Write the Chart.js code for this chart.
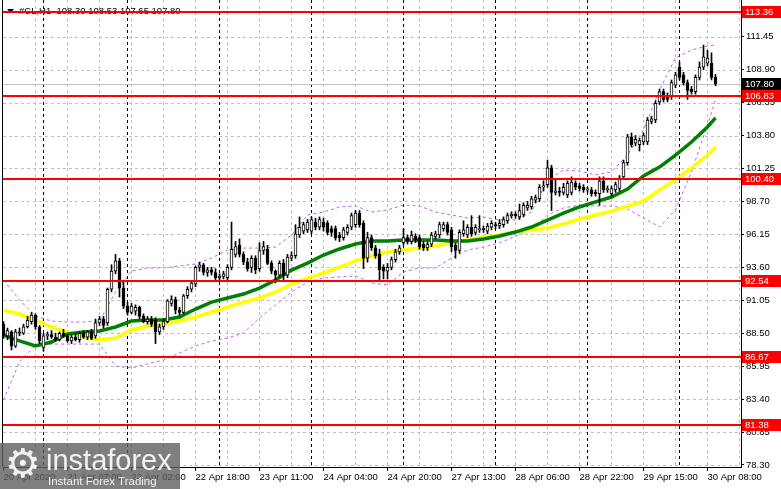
<!DOCTYPE html>
<html>
<head>
<meta charset="utf-8">
<script src="https://cdn.jsdelivr.net/npm/chart.js@4.4.1/dist/chart.umd.min.js"></script>
<style>
  html, body { margin:0; padding:0; background:#fff; }
  #wrap { position:relative; width:781px; height:489px; overflow:hidden; }
  #logo {
    position:absolute; left:0; top:443px; width:180px; height:46px;
    background:rgba(95,95,95,.8); color:#f2f2f2;
    font-family:"Liberation Sans", Arial, sans-serif;
  }
  #logo .gear { position:absolute; left:5px; top:-2px; font-size:40px; line-height:44px; font-family:"DejaVu Sans", sans-serif; }
  #logo .brand { position:absolute; left:46px; top:1px; font-size:29px; line-height:32px; }
  #logo .tag { position:absolute; left:48px; top:32px; font-size:11.5px; line-height:13px; }
</style>
</head>
<body>
<div id="wrap">
  <canvas id="chart" width="781" height="489"></canvas>
  <div id="logo"><span class="gear">⚙</span><span class="brand">instaforex</span><span class="tag">Instant Forex Trading</span></div>
</div>
<script>
/* =========================================================
   DATA  (#CL, H1, bar index 0 = 20 Apr 2020)
========================================================= */

const opens = [
  89.2, 88.3, 88.6, 87.5, 88.6, 88.5, 89.0, 89.4, 89.9, 89.0,
  87.4, 88.3, 88.4, 88.2, 88.0, 88.5, 88.3, 87.9, 88.2, 88.0,
  88.5, 88.2, 88.6, 88.3, 89.3, 89.6, 89.3, 91.9, 93.3, 94.1,
  92.0, 90.6, 90.1, 90.2, 90.5, 89.8, 89.4, 89.6, 89.5, 88.6,
  89.0, 89.4, 90.8, 91.1, 90.3, 90.1, 91.4, 91.9, 92.3, 93.6,
  93.8, 93.2, 93.4, 93.2, 92.8, 92.9, 92.8, 93.6, 94.6, 95.3,
  94.6, 94.0, 93.6, 94.3, 93.5, 94.9, 95.0, 93.9, 93.3, 93.0,
  93.9, 93.0, 94.3, 94.5, 96.1, 96.4, 96.5, 96.4, 97.1, 96.7,
  97.1, 97.0, 96.6, 96.6, 96.1, 95.9, 96.3, 96.7, 96.9, 97.8,
  97.0, 94.3, 95.9, 95.1, 94.6, 93.6, 93.3, 93.6, 94.2, 94.8,
  95.5, 95.9, 95.6, 96.0, 95.9, 95.4, 95.1, 95.4, 96.0, 96.1,
  96.6, 96.9, 96.5, 95.3, 94.9, 96.2, 96.1, 96.7, 96.3, 96.5,
  96.6, 96.4, 96.7, 96.9, 96.8, 96.9, 97.2, 97.6, 97.7, 97.5,
  97.7, 98.2, 98.3, 98.8, 98.9, 99.8, 100.0, 101.3, 99.4, 99.5,
  99.4, 99.2, 99.4, 100.1, 99.9, 99.8, 99.6, 99.6, 99.4, 99.3,
  100.3, 99.6, 99.3, 99.6, 99.7, 100.6, 101.7, 103.7, 103.2, 103.1,
  103.3, 103.3, 104.9, 105.0, 106.4, 107.2, 106.9, 106.8, 107.7, 109.1,
  108.5, 107.9, 107.4, 107.2, 108.3, 109.1, 109.4, 109.4, 108.30
];

const highs = [
  89.4, 88.9, 88.7, 88.8, 88.9, 89.2, 89.8, 90.1, 90.0, 89.1,
  88.5, 88.6, 88.7, 88.5, 88.6, 88.8, 88.4, 88.4, 88.5, 88.6,
  88.7, 88.7, 88.8, 89.6, 89.8, 89.8, 92.0, 93.8, 94.6, 94.3,
  92.6, 90.9, 90.8, 90.7, 90.6, 90.0, 89.8, 89.8, 89.7, 89.2,
  89.6, 91.1, 91.4, 91.3, 90.5, 91.5, 92.1, 92.5, 93.7, 94.0,
  93.9, 93.6, 93.6, 93.5, 93.1, 93.3, 93.8, 97.1, 95.6, 95.8,
  94.8, 94.3, 94.5, 94.5, 95.5, 95.6, 95.3, 94.1, 93.4, 94.1,
  94.2, 94.6, 94.8, 96.9, 97.5, 97.1, 97.3, 97.5, 97.4, 97.5,
  97.4, 97.2, 96.8, 96.8, 96.3, 96.7, 96.9, 97.8, 98.0, 98.0,
  97.2, 96.3, 96.1, 95.3, 95.0, 93.8, 93.9, 94.4, 95.0, 95.3,
  96.6, 96.1, 96.4, 96.2, 96.1, 95.6, 95.6, 96.3, 96.4, 97.1,
  97.1, 97.1, 96.7, 95.5, 96.5, 97.2, 96.9, 97.6, 96.9, 97.6,
  96.8, 97.0, 97.2, 97.1, 97.3, 97.5, 97.8, 97.9, 97.9, 98.5,
  98.6, 98.7, 99.1, 99.2, 100.0, 100.3, 101.9, 101.5, 100.4, 99.8,
  100.1, 100.3, 100.6, 100.3, 100.1, 100.0, 99.8, 99.8, 99.6, 100.6,
  100.6, 99.9, 99.9, 100.2, 100.7, 101.9, 103.9, 104.0, 103.8, 103.6,
  104.0, 105.2, 105.3, 106.5, 107.4, 107.4, 107.1, 108.1, 108.7, 109.5,
  108.7, 108.1, 107.6, 108.5, 109.5, 110.8, 110.4, 110.2, 108.53
];

const lows = [
  88.1, 88.0, 87.2, 87.4, 88.3, 88.4, 88.9, 89.2, 88.8, 87.7,
  87.1, 88.0, 88.1, 87.9, 87.9, 88.2, 87.8, 87.7, 87.9, 87.8,
  88.1, 88.0, 88.0, 88.1, 89.1, 88.9, 89.1, 91.7, 93.1, 91.3,
  90.4, 89.9, 90.0, 89.9, 89.6, 89.3, 89.2, 89.0, 87.7, 88.4,
  88.8, 89.3, 90.6, 90.0, 89.9, 90.0, 91.2, 91.7, 92.1, 93.3,
  93.0, 92.9, 93.0, 92.6, 92.6, 92.7, 92.6, 93.4, 94.4, 94.4,
  93.8, 93.3, 93.2, 93.1, 93.3, 94.6, 93.8, 93.1, 92.4, 92.8,
  92.5, 92.8, 94.1, 94.3, 95.9, 96.2, 96.3, 96.2, 96.5, 96.5,
  96.4, 96.1, 96.0, 95.7, 95.6, 95.7, 96.1, 96.5, 96.7, 96.7,
  93.5, 94.0, 94.9, 94.3, 92.6, 92.7, 92.7, 93.4, 94.0, 94.6,
  95.3, 95.4, 95.4, 95.5, 95.0, 94.9, 94.9, 95.2, 95.8, 95.9,
  96.4, 96.1, 94.8, 94.3, 94.7, 96.0, 95.9, 96.0, 96.1, 96.3,
  96.3, 96.2, 96.5, 96.6, 96.6, 96.7, 97.0, 97.4, 97.4, 97.3,
  97.5, 98.0, 98.1, 98.6, 98.7, 99.5, 99.8, 98.0, 99.2, 99.1,
  99.2, 99.0, 99.2, 99.6, 99.5, 99.4, 99.4, 99.1, 99.1, 98.4,
  99.4, 99.4, 99.1, 99.4, 99.5, 100.4, 101.5, 102.9, 103.0, 102.6,
  103.1, 103.1, 104.7, 104.8, 106.2, 106.4, 106.4, 106.6, 107.5, 108.1,
  107.7, 106.6, 107.0, 107.0, 108.1, 108.9, 109.2, 108.1, 107.65
];

const closes = [
  88.3, 88.7, 87.5, 88.6, 88.5, 89.0, 89.5, 89.9, 89.0, 87.9,
  88.3, 88.4, 88.2, 88.0, 88.5, 88.3, 87.9, 88.2, 88.0, 88.5,
  88.2, 88.6, 88.1, 89.3, 89.6, 89.1, 91.9, 93.3, 94.1, 92.0,
  90.6, 90.1, 90.6, 90.5, 89.8, 89.4, 89.6, 89.2, 88.6, 89.0,
  89.4, 91.0, 91.1, 90.3, 90.1, 91.4, 91.9, 92.4, 93.6, 93.8,
  93.2, 93.4, 93.2, 92.8, 92.9, 93.1, 93.6, 95.0, 95.2, 94.6,
  94.0, 93.5, 94.3, 93.4, 94.9, 95.2, 93.9, 93.3, 93.0, 93.9,
  93.0, 94.4, 94.5, 96.2, 96.7, 96.9, 97.1, 97.3, 96.7, 97.3,
  96.7, 96.3, 96.3, 95.9, 95.9, 96.5, 96.7, 97.6, 97.8, 96.9,
  94.3, 95.9, 95.1, 94.5, 93.4, 93.3, 93.6, 94.2, 94.8, 95.1,
  95.9, 95.6, 96.1, 95.7, 95.2, 95.1, 95.4, 96.1, 96.2, 96.9,
  96.9, 96.3, 95.2, 94.9, 96.3, 96.5, 96.7, 96.2, 96.7, 96.6,
  96.5, 96.8, 97.0, 96.8, 97.0, 97.3, 97.6, 97.7, 97.6, 98.0,
  98.4, 98.4, 98.9, 99.0, 99.8, 99.9, 101.3, 99.4, 99.5, 99.4,
  99.8, 100.1, 100.2, 99.8, 99.7, 99.6, 99.6, 99.3, 99.3, 100.3,
  99.6, 99.7, 99.7, 100.0, 100.5, 101.7, 103.7, 103.1, 103.5, 103.4,
  103.8, 105.0, 105.1, 106.3, 107.2, 106.6, 106.6, 107.9, 108.5, 108.3,
  107.9, 107.3, 107.2, 108.3, 109.1, 109.9, 109.8, 108.3, 107.80
];

/* indicator lines, read at these bar indices */
const lineBars = [
  0, 4, 8, 12, 16, 20, 24, 28, 32, 36, 40, 44, 48, 52, 56, 60,
  64, 68, 72, 76, 80, 84, 88, 92, 96, 100, 104, 108, 112, 116, 120, 124,
  128, 132, 136, 140, 144, 148, 152, 156, 160, 164, 168, 172, 176, 178
];

const maFast = [
  88.36, 87.90, 87.51, 87.82, 88.44, 88.59, 88.67, 88.98, 89.44, 89.52, 89.52, 89.75, 90.37, 90.91, 91.22, 91.53,
  91.99, 92.62, 93.39, 93.93, 94.55, 95.02, 95.40, 95.64, 95.64, 95.71, 95.71, 95.71, 95.64, 95.64, 95.79, 96.02,
  96.33, 96.72, 97.26, 97.80, 98.27, 98.66, 99.04, 99.66, 100.67, 101.36, 102.29, 103.30, 104.46, 105.16
];

const maSlow = [
  90.30, 89.99, 89.52, 88.98, 88.59, 88.20, 87.97, 88.13, 88.75, 89.06, 89.21, 89.44, 89.75, 90.14, 90.53, 90.91,
  91.22, 91.69, 92.31, 92.77, 93.16, 93.62, 94.09, 94.48, 94.79, 94.94, 95.10, 95.25, 95.48, 95.71, 95.95, 96.10,
  96.33, 96.49, 96.64, 96.95, 97.34, 97.65, 97.95, 98.34, 98.73, 99.58, 100.36, 101.29, 102.29, 102.91
];

const bandUpper = [
  92.62, 91.07, 89.83, 89.44, 89.37, 89.37, 89.44, 91.69, 93.31, 93.55, 93.55, 93.70, 93.86, 94.32, 94.94, 95.09,
  95.09, 95.17, 96.10, 97.65, 97.88, 98.27, 98.35, 97.88, 98.04, 98.42, 98.35, 97.88, 97.65, 97.42, 97.49, 97.26,
  97.26, 97.88, 100.36, 101.13, 101.05, 100.75, 100.98, 102.29, 104.23, 107.32, 109.80, 110.42, 110.73, 110.81
];

const bandLower = [
  83.33, 86.27, 87.59, 87.66, 87.66, 87.66, 87.66, 85.96, 85.81, 86.12, 86.43, 86.97, 87.51, 87.90, 88.13, 88.52,
  89.68, 90.68, 91.69, 92.46, 92.77, 92.85, 92.93, 92.39, 92.23, 93.24, 93.55, 93.55, 94.32, 94.94, 95.17, 95.48,
  96.02, 96.57, 97.65, 98.19, 98.42, 98.35, 98.35, 98.11, 97.42, 96.72, 98.04, 100.98, 104.62, 106.55
];

/* horizontal levels and price axis */
const levels = [113.36, 106.83, 100.40, 92.54, 86.67, 81.38];
const bidPrice = 107.80;

const yTicks = [
  78.30, 80.85, 83.40, 85.95, 88.50, 91.05, 93.60,
  96.15, 98.70, 101.25, 103.80, 106.35, 108.90, 111.45
];

/* time axis */
const tickBars = [0, 16, 32, 48, 64, 80, 96, 112, 128, 144, 160, 176];
const tickLabels = [
  "20 Apr 2020", "21 Apr 07:00", "22 Apr 02:00", "22 Apr 18:00",
  "23 Apr 11:00", "24 Apr 04:00", "24 Apr 20:00", "27 Apr 13:00",
  "28 Apr 06:00", "28 Apr 22:00", "29 Apr 15:00", "30 Apr 08:00"
];
const daySeparators = [10, 31, 54, 77, 100, 123, 146, 169];

const titleText = "#CL,H1  108.30 108.53 107.65 107.80";

/* =========================================================
   HELPERS
========================================================= */

const FONT = '"Liberation Sans", Arial, sans-serif';

const gridBars = [];
for(let k = 0; k <= 184; k += 8) gridBars.push(k);

const wicks =
  highs.map((h, i) => ({ x: i, y: [lows[i], h] }));

const bodies =
  closes.map((c, i) => ({ x: i, y: [opens[i], c] }));

const bodyColors =
  closes.map((c, i) => c >= opens[i] ? "#ffffff" : "#000000");

function linePoints(values){
  return values.map((v, i) => ({ x: lineBars[i], y: v }));
}

/* =========================================================
   OVERLAY PLUGIN
========================================================= */

const overlay = {

  id: "overlay",

  beforeDatasetsDraw(chart){

    const { ctx, chartArea: a, scales: { x, y } } = chart;

    ctx.save();
    ctx.lineWidth = 1;

    /* dashed grey grid */
    ctx.strokeStyle = "#c0c0c0";
    ctx.setLineDash([3, 3]);
    gridBars.forEach(k => {
      const px = Math.floor(x.getPixelForValue(k)) + 0.5;
      if(px < a.left + 1 || px > a.right - 1) return;
      ctx.beginPath();
      ctx.moveTo(px, a.top);
      ctx.lineTo(px, a.bottom);
      ctx.stroke();
    });
    yTicks.forEach(v => {
      const py = Math.round(y.getPixelForValue(v)) + 0.5;
      ctx.beginPath();
      ctx.moveTo(a.left, py);
      ctx.lineTo(a.right, py);
      ctx.stroke();
    });

    /* day separators */
    ctx.strokeStyle = "#000";
    daySeparators.forEach(k => {
      const px = Math.floor(x.getPixelForValue(k)) + 0.5;
      ctx.beginPath();
      ctx.moveTo(px, a.top);
      ctx.lineTo(px, a.bottom);
      ctx.stroke();
    });
    ctx.setLineDash([]);

    /* bid line */
    const by = Math.round(y.getPixelForValue(bidPrice)) + 0.5;
    ctx.strokeStyle = "#c0c0c0";
    ctx.beginPath();
    ctx.moveTo(a.left, by);
    ctx.lineTo(a.right, by);
    ctx.stroke();

    /* title */
    ctx.fillStyle = "#000";
    ctx.beginPath();
    ctx.moveTo(7, 9);
    ctx.lineTo(14, 9);
    ctx.lineTo(10.5, 13);
    ctx.closePath();
    ctx.fill();
    ctx.font = "9.5px " + FONT;
    ctx.textBaseline = "middle";
    ctx.fillText(titleText, 19, 11);

    ctx.restore();

  },

  afterDatasetsDraw(chart){

    const { ctx, chartArea: a, scales: { y } } = chart;

    ctx.save();
    ctx.strokeStyle = "#ff0000";
    ctx.lineWidth = 2;
    levels.forEach(v => {
      const py = Math.round(y.getPixelForValue(v));
      ctx.beginPath();
      ctx.moveTo(a.left, py);
      ctx.lineTo(a.right, py);
      ctx.stroke();
    });
    ctx.restore();

  },

  afterDraw(chart){

    const { ctx, chartArea: a, scales: { y } } = chart;

    ctx.save();

    /* left frame */
    ctx.strokeStyle = "#000";
    ctx.lineWidth = 1;
    ctx.beginPath();
    ctx.moveTo(2.5, a.top);
    ctx.lineTo(2.5, a.bottom);
    ctx.stroke();

    /* price boxes */
    ctx.font = "9.5px " + FONT;
    ctx.textBaseline = "middle";

    const box = (v, bg) => {
      const py = Math.round(y.getPixelForValue(v));
      ctx.fillStyle = bg;
      ctx.fillRect(a.right + 1, py - 6, 40, 12);
      ctx.fillStyle = "#fff";
      ctx.fillText(v.toFixed(2), a.right + 4, py + 0.5);
    };

    levels.forEach(v => box(v, "#ff0000"));
    box(bidPrice, "#000000");

    ctx.restore();

  }

};

/* =========================================================
   CHART
========================================================= */

const ctx =
  document
    .getElementById("chart")
    .getContext("2d");

new Chart(ctx, {

  type: "bar",

  data: {
    datasets: [
      {
        type: "line",
        data: linePoints(bandUpper),
        borderColor: "#c45ef2",
        borderWidth: 1,
        borderDash: [3, 3],
        pointRadius: 0,
        order: 6
      },
      {
        type: "line",
        data: linePoints(bandLower),
        borderColor: "#c45ef2",
        borderWidth: 1,
        borderDash: [3, 3],
        pointRadius: 0,
        order: 6
      },
      {
        type: "line",
        data: linePoints(maSlow),
        borderColor: "#ffff00",
        borderWidth: 3.5,
        pointRadius: 0,
        order: 5
      },
      {
        type: "line",
        data: linePoints(maFast),
        borderColor: "#008000",
        borderWidth: 3.5,
        pointRadius: 0,
        order: 4
      },
      {
        data: wicks,
        backgroundColor: "#000",
        borderWidth: 0,
        barThickness: 1,
        grouped: false,
        order: 3
      },
      {
        data: bodies,
        backgroundColor: bodyColors,
        borderColor: "#000",
        borderWidth: 1,
        borderSkipped: false,
        barThickness: 3,
        minBarLength: 1,
        grouped: false,
        order: 2
      }
    ]
  },

  options: {

    responsive: false,

    animation: false,

    layout: {
      padding: { left: 3, top: 0, right: 0, bottom: 0 }
    },

    plugins: {
      legend: { display: false },
      tooltip: { enabled: false }
    },

    scales: {

      x: {
        type: "linear",
        min: -0.125,
        max: 184.375,
        offset: false,
        afterBuildTicks: s => {
          s.ticks = gridBars.map(v => ({ value: v }));
        },
        afterFit: s => {
          s.height = 22;
          s.paddingLeft = 0;
          s.paddingRight = 0;
        },
        grid: {
          offset: false,
          drawOnChartArea: false,
          tickLength: 4,
          tickBorderDash: [],
          tickColor: c =>
            c.tick && tickBars.includes(c.tick.value) ? "#000" : "rgba(0,0,0,0)"
        },
        border: {
          color: "#000",
          width: 1
        },
        ticks: {
          autoSkip: false,
          maxRotation: 0,
          align: "start",
          padding: 1,
          color: "#000",
          font: { family: FONT, size: 9.5 },
          callback: v => {
            const i = tickBars.indexOf(v);
            return i >= 0 ? tickLabels[i] : "";
          }
        }
      },

      y: {
        type: "linear",
        position: "right",
        min: 78.145,
        max: 114.29,
        afterBuildTicks: s => {
          s.ticks = yTicks.map(v => ({ value: v }));
        },
        afterFit: s => {
          s.width = 40;
          s.paddingTop = 0;
          s.paddingBottom = 0;
        },
        grid: {
          drawOnChartArea: false,
          tickLength: 3,
          tickColor: "#000",
          tickBorderDash: []
        },
        border: {
          color: "#000",
          width: 1
        },
        ticks: {
          padding: 2,
          color: "#000",
          font: { family: FONT, size: 9.5 },
          callback: v => v.toFixed(2)
        }
      }

    }

  },

  plugins: [overlay]

});
</script>
</body>
</html>
